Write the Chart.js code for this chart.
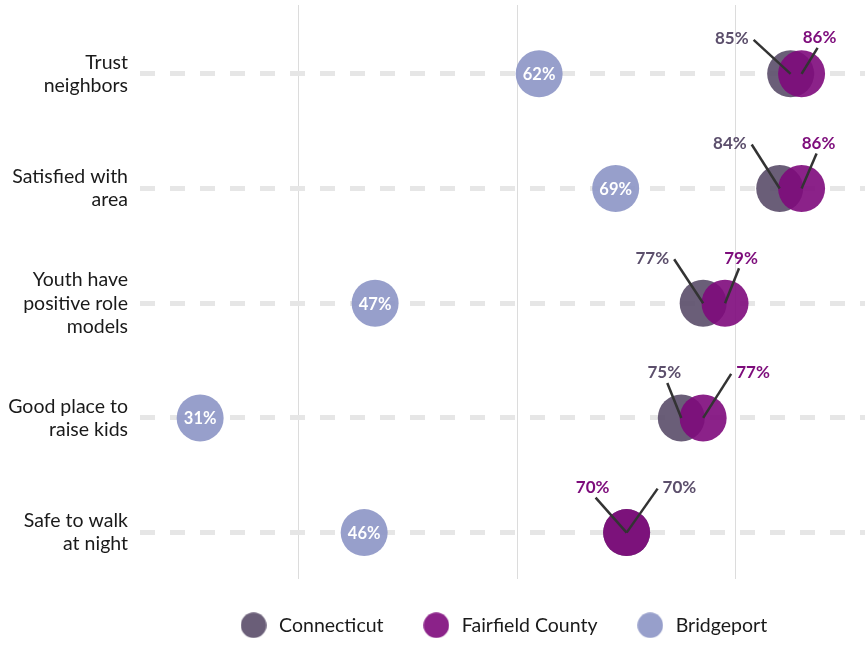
<!DOCTYPE html>
<html><head><meta charset="utf-8">
<script src="https://cdn.jsdelivr.net/npm/chart.js@4/dist/chart.umd.min.js"></script>
<style>html,body{margin:0;padding:0;background:#fff}</style>
</head><body>
<canvas id="c" width="865" height="645"></canvas>
<script>
// ---- data ----
const categories = [["Trust","neighbors"],["Satisfied with","area"],["Youth have","positive role","models"],["Good place to","raise kids"],["Safe to walk","at night"]];
const seriesNames = ["Connecticut","Fairfield County","Bridgeport"];
const connecticut = [85,84,77,75,70];
const fairfield = [86,86,79,77,70];
const bridgeport = [62,69,47,31,46];
const gridTicks = [40,60,80];

// ---- styling ----
const FONT = 'Lato';
const COL_CT = 'rgba(90,77,105,0.9)';
const COL_FF = 'rgba(126,10,124,0.9)';
const COL_BP = 'rgba(140,149,197,0.9)';
const TXT_CT = '#5c4f6c';
const TXT_FF = '#7d0c7b';
const nRows = categories.length;
const rowY = i => nRows - i;
const toPts = arr => arr.map((v,i)=>({x:v,y:rowY(i)}));

// label leader-line layout per row (pixel offsets from point centre)
const labelLayout = [
  {left:{dx:-37,dy:-34,mode:'side'}, right:{dx:16,dy:-26,mode:'top'}},
  {left:{dx:-28,dy:-44,mode:'side'}, right:{dx:15,dy:-35,mode:'top'}},
  {left:{dx:-29,dy:-44,mode:'side'}, right:{dx:14,dy:-35,mode:'top'}},
  {left:{dx:-14,dy:-35,mode:'top'},  right:{dx:28,dy:-44,mode:'side'}},
  {left:{dx:-31,dy:-35,mode:'top'},  right:{dx:31,dy:-44,mode:'side'}}
];

const labelPlugin = {
  id:'dotLabels',
  afterDatasetsDraw(chart){
    const ctx = chart.ctx;
    const xs = chart.scales.x, ys = chart.scales.y;
    ctx.save();
    for(let i=0;i<nRows;i++){
      const y = ys.getPixelForValue(rowY(i));
      ctx.font = 'bold 16.5px '+FONT;
      ctx.fillStyle = '#ffffff';
      ctx.textAlign = 'center'; ctx.textBaseline = 'middle';
      ctx.fillText(bridgeport[i]+'%', xs.getPixelForValue(bridgeport[i]), y+1);
      const ctX = xs.getPixelForValue(connecticut[i]);
      const ffX = xs.getPixelForValue(fairfield[i]);
      const ctLeft = connecticut[i] < fairfield[i];
      const items = [
        {side:'left', x: ctLeft?ctX:ffX, v: ctLeft?connecticut[i]:fairfield[i], c: ctLeft?TXT_CT:TXT_FF},
        {side:'right', x: ctLeft?ffX:ctX, v: ctLeft?fairfield[i]:connecticut[i], c: ctLeft?TXT_FF:TXT_CT}
      ];
      items.forEach(it=>{
        const L = labelLayout[i][it.side];
        const ex = it.x + L.dx, ey = y + L.dy;
        ctx.strokeStyle = '#333333'; ctx.lineWidth = 2.5; ctx.lineCap='butt';
        ctx.beginPath(); ctx.moveTo(it.x, y); ctx.lineTo(ex, ey); ctx.stroke();
        ctx.font = 'bold 17px '+FONT;
        ctx.fillStyle = it.c; ctx.textBaseline='middle';
        let tx, ty;
        if(L.mode==='side'){
          ctx.textAlign = it.side==='left'?'right':'left';
          tx = it.side==='left'? ex-5 : ex+5; ty = ey-1;
        } else {
          ctx.textAlign = 'center';
          tx = it.side==='left'? ex-3 : ex+2; ty = ey-10;
        }
        ctx.fillText(it.v+'%', tx, ty);
      });
    }
    ctx.restore();
  }
};

// legend marker images (round dots, 26px)
function dotImage(color){
  const c = document.createElement('canvas'); c.width = 26; c.height = 26;
  const g = c.getContext('2d'); g.fillStyle = color;
  g.beginPath(); g.arc(13,13,12.8,0,Math.PI*2); g.fill();
  return c;
}
const legendDots = [dotImage(COL_CT), dotImage(COL_FF), dotImage(COL_BP)];

Chart.defaults.font.family = FONT;
const mk = (label,data,color,order)=>({label, data:toPts(data), backgroundColor:color, borderWidth:0,
  pointRadius:23.5, pointHoverRadius:23.5, pointStyle:'circle', order});

new Chart(document.getElementById('c'), {
  type:'scatter',
  data:{ datasets:[ mk(seriesNames[0],connecticut,COL_CT,2), mk(seriesNames[1],fairfield,COL_FF,1), mk(seriesNames[2],bridgeport,COL_BP,3) ] },
  options:{
    responsive:false, animation:false, devicePixelRatio:1,
    layout:{autoPadding:false, padding:{top:5,right:0,left:0,bottom:0}},
    plugins:{
      tooltip:{enabled:false},
      legend:{position:'bottom', fullSize:false,
        labels:{usePointStyle:true, boxHeight:19, pointStyleWidth:31.5, padding:37,
          color:'#1a1a1a', font:{family:FONT,size:19.5},
          generateLabels:(chart)=>{
            const items = Chart.defaults.plugins.legend.labels.generateLabels(chart);
            items.sort((a,b)=>a.datasetIndex-b.datasetIndex);
            items.forEach(it=>{ it.pointStyle = legendDots[it.datasetIndex]; it.lineWidth = 0; });
            return items;
          }}}
    },
    scales:{
      x:{type:'linear', min:25.5, max:91.8,
        afterBuildTicks:s=>{s.ticks = gridTicks.map(v=>({value:v}));},
        ticks:{display:false}, border:{display:false},
        grid:{color:'#dcdcdc', lineWidth:1, drawTicks:false}},
      y:{type:'linear', min:0.6, max:5.6,
        afterBuildTicks:s=>{s.ticks = categories.map((c,i)=>({value:rowY(i)}));},
        afterFit:s=>{s.width=140; s.paddingTop=0; s.paddingBottom=0;},
        ticks:{callback:v=>categories[nRows-v], color:'#1a1a1a', font:{family:FONT,size:19.5,lineHeight:1.18}, padding:12},
        border:{display:false, dash:[15,15]},
        grid:{color:'#e6e6e6', lineWidth:5, drawTicks:false}}
    }
  },
  plugins:[labelPlugin]
});
</script>
</body></html>
